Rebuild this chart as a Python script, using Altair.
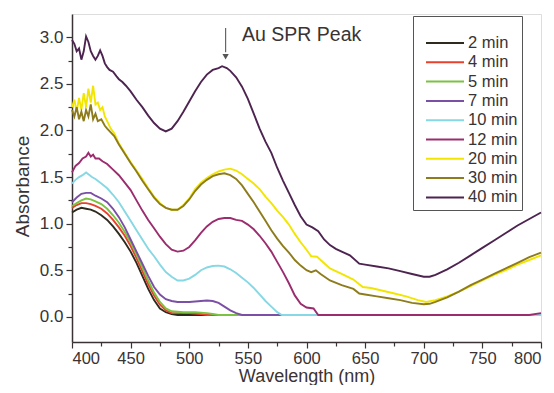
import altair as alt
import pandas as pd

series_names = ["2 min", "4 min", "5 min", "7 min", "10 min", "12 min", "20 min", "30 min", "40 min"]
series_colors = ["#2e2a1e", "#e8412c", "#7cc242", "#7b4fa6", "#86d8e4", "#9b2c6e", "#f2e600", "#8e7c1c", "#4d2350"]

wl_2 = [400, 404, 408, 412, 416, 420, 425, 430, 435, 440, 445, 450, 455, 460, 465, 470, 475, 480, 485, 490, 600, 700, 800]
ab_2 = [1.12, 1.15, 1.17, 1.16, 1.15, 1.13, 1.09, 1.04, 0.97, 0.89, 0.80, 0.70, 0.58, 0.44, 0.30, 0.18, 0.09, 0.05, 0.03, 0.02, 0.02, 0.02, 0.02]

wl_4 = [400, 404, 408, 412, 416, 420, 425, 430, 435, 440, 445, 450, 455, 460, 465, 470, 475, 480, 485, 500, 510, 515, 600, 700, 800]
ab_4 = [1.17, 1.20, 1.22, 1.22, 1.21, 1.19, 1.16, 1.11, 1.04, 0.96, 0.87, 0.76, 0.63, 0.49, 0.35, 0.23, 0.13, 0.07, 0.04, 0.04, 0.03, 0.02, 0.02, 0.02, 0.02]

wl_5 = [400, 404, 408, 412, 416, 420, 425, 430, 435, 440, 445, 450, 455, 460, 465, 470, 475, 480, 485, 495, 505, 515, 520, 525, 600, 700, 800]
ab_5 = [1.19, 1.22, 1.25, 1.27, 1.26, 1.24, 1.21, 1.16, 1.09, 1.01, 0.91, 0.80, 0.67, 0.53, 0.39, 0.26, 0.16, 0.09, 0.06, 0.05, 0.05, 0.04, 0.03, 0.02, 0.02, 0.02, 0.02]

wl_7 = [400, 404, 408, 412, 416, 420, 425, 430, 435, 440, 445, 450, 455, 460, 465, 470, 475, 480, 485, 490, 500, 510, 515, 520, 525, 530, 535, 540, 545, 600, 700, 800]
ab_7 = [1.23, 1.28, 1.32, 1.33, 1.33, 1.30, 1.27, 1.23, 1.16, 1.07, 0.96, 0.83, 0.70, 0.57, 0.44, 0.32, 0.24, 0.19, 0.17, 0.16, 0.16, 0.17, 0.175, 0.17, 0.15, 0.11, 0.07, 0.04, 0.02, 0.02, 0.02, 0.02]

wl_10 = [400, 403, 406, 409, 412, 414, 417, 420, 425, 430, 435, 440, 445, 450, 455, 460, 465, 470, 475, 480, 485, 490, 495, 500, 505, 510, 515, 520, 525, 530, 535, 540, 545, 550, 555, 560, 565, 570, 575, 579, 650, 800]
ab_10 = [1.43, 1.47, 1.50, 1.52, 1.55, 1.53, 1.50, 1.48, 1.43, 1.38, 1.31, 1.23, 1.13, 1.03, 0.93, 0.83, 0.73, 0.65, 0.56, 0.48, 0.43, 0.39, 0.39, 0.41, 0.45, 0.50, 0.53, 0.545, 0.55, 0.54, 0.51, 0.47, 0.42, 0.37, 0.31, 0.24, 0.17, 0.11, 0.05, 0.02, 0.02, 0.02]

wl_12 = [400, 403, 406, 409, 412, 414, 416, 418, 420, 423, 426, 430, 435, 440, 445, 450, 455, 460, 465, 470, 475, 480, 485, 490, 495, 500, 505, 510, 515, 520, 525, 530, 535, 540, 545, 550, 555, 560, 565, 570, 575, 580, 585, 590, 595, 600, 606, 610, 700, 790, 800]
ab_12 = [1.55, 1.62, 1.65, 1.70, 1.72, 1.76, 1.72, 1.74, 1.70, 1.70, 1.67, 1.64, 1.58, 1.52, 1.44, 1.36, 1.25, 1.14, 1.04, 0.95, 0.86, 0.78, 0.72, 0.70, 0.71, 0.75, 0.82, 0.90, 0.97, 1.02, 1.05, 1.06, 1.06, 1.04, 1.03, 0.99, 0.94, 0.87, 0.79, 0.70, 0.59, 0.48, 0.36, 0.23, 0.14, 0.10, 0.09, 0.02, 0.02, 0.02, 0.04]

wl_20 = [400, 402, 404, 406, 408, 410, 412, 414, 416, 418, 420, 422, 424, 426, 428, 430, 433, 436, 440, 445, 450, 455, 460, 465, 470, 475, 480, 485, 490, 495, 500, 505, 510, 515, 520, 525, 530, 535, 540, 545, 550, 555, 560, 565, 570, 575, 580, 585, 590, 595, 600, 604, 609, 613, 620, 630, 640, 645, 648, 655, 665, 675, 685, 695, 702, 710, 720, 730, 740, 750, 760, 770, 780, 790, 800]
ab_20 = [2.25, 2.33, 2.20, 2.35, 2.22, 2.40, 2.25, 2.45, 2.30, 2.48, 2.28, 2.30, 2.22, 2.25, 2.15, 2.10, 2.02, 1.97, 1.86, 1.76, 1.66, 1.57, 1.48, 1.38, 1.29, 1.22, 1.17, 1.15, 1.15, 1.20, 1.27, 1.37, 1.44, 1.49, 1.53, 1.56, 1.58, 1.59, 1.57, 1.53, 1.48, 1.43, 1.37, 1.29, 1.22, 1.14, 1.07, 0.99, 0.89, 0.80, 0.72, 0.65, 0.645, 0.60, 0.52, 0.46, 0.40, 0.35, 0.32, 0.31, 0.28, 0.25, 0.22, 0.18, 0.16, 0.18, 0.22, 0.27, 0.33, 0.39, 0.45, 0.50, 0.56, 0.61, 0.66]

wl_30 = [400, 402, 404, 406, 408, 410, 412, 414, 416, 418, 420, 422, 425, 428, 430, 433, 436, 440, 445, 450, 455, 460, 465, 470, 475, 480, 485, 490, 495, 500, 505, 510, 515, 520, 525, 530, 535, 540, 545, 550, 555, 560, 565, 570, 575, 580, 585, 590, 595, 600, 604, 608, 612, 620, 630, 640, 645, 650, 660, 670, 680, 690, 700, 705, 710, 720, 730, 740, 750, 760, 770, 780, 790, 800]
ab_30 = [2.22, 2.15, 2.25, 2.12, 2.20, 2.10, 2.22, 2.15, 2.28, 2.12, 2.18, 2.10, 2.12, 2.05, 2.02, 1.98, 1.94, 1.85, 1.75, 1.65, 1.56, 1.46, 1.37, 1.28, 1.21, 1.17, 1.15, 1.15, 1.19, 1.26, 1.35, 1.42, 1.47, 1.51, 1.53, 1.54, 1.52, 1.48, 1.41, 1.32, 1.23, 1.13, 1.03, 0.93, 0.84, 0.76, 0.69, 0.61, 0.55, 0.50, 0.48, 0.50, 0.46, 0.39, 0.34, 0.30, 0.25, 0.24, 0.22, 0.20, 0.18, 0.15, 0.135, 0.14, 0.16, 0.21, 0.27, 0.34, 0.40, 0.46, 0.52, 0.58, 0.64, 0.69]

wl_40 = [400, 402, 404, 406, 408, 410, 412, 414, 416, 418, 420, 422, 424, 426, 428, 430, 432, 435, 438, 440, 443, 446, 450, 455, 460, 465, 470, 475, 480, 485, 490, 495, 500, 505, 510, 515, 520, 525, 528, 532, 535, 540, 545, 550, 555, 560, 565, 570, 575, 580, 585, 590, 595, 600, 605, 610, 615, 620, 625, 630, 637, 645, 650, 660, 670, 680, 690, 700, 705, 710, 720, 730, 740, 750, 760, 770, 780, 790, 800]
ab_40 = [2.97, 2.93, 2.85, 2.88, 2.76, 2.85, 3.01, 2.95, 2.85, 2.80, 2.76, 2.80, 2.86, 2.80, 2.72, 2.68, 2.65, 2.63, 2.58, 2.55, 2.52, 2.48, 2.42, 2.33, 2.25, 2.16, 2.08, 2.02, 1.99, 2.02, 2.10, 2.20, 2.31, 2.42, 2.52, 2.60, 2.65, 2.67, 2.69, 2.67, 2.64, 2.57, 2.47, 2.34, 2.18, 2.02, 1.88, 1.76, 1.60, 1.46, 1.33, 1.20, 1.08, 0.99, 0.96, 0.92, 0.83, 0.77, 0.73, 0.70, 0.66, 0.57, 0.56, 0.54, 0.52, 0.49, 0.46, 0.43, 0.43, 0.45, 0.51, 0.58, 0.66, 0.74, 0.82, 0.90, 0.98, 1.05, 1.12]

all_wl = [wl_2, wl_4, wl_5, wl_7, wl_10, wl_12, wl_20, wl_30, wl_40]
all_ab = [ab_2, ab_4, ab_5, ab_7, ab_10, ab_12, ab_20, ab_30, ab_40]

x_major = [400, 450, 500, 550, 600, 650, 700, 750, 800]
x_minor = [425, 475, 525, 575, 625, 675, 725, 775]
y_major = [0.0, 0.5, 1.0, 1.5, 2.0, 2.5, 3.0]
y_minor = [0.25, 0.75, 1.25, 1.75, 2.25, 2.75]

peak_label = "Au SPR Peak"
arrow_wl = 531
arrow_top, arrow_bottom, arrow_tip = 3.10, 2.84, 2.79
label_wl, label_ab = 545, 3.03

FONT = "Liberation Sans"
INK = "#3a3333"

xscale = alt.Scale(domain=[400, 800], nice=False, zero=False)
yscale = alt.Scale(domain=[-0.27, 3.25], nice=False, zero=False)
cscale = alt.Scale(domain=series_names, range=series_colors)

x_axis = alt.Axis(values=x_major, format="d", title="Wavelength (nm)", grid=False,
                  tickSize=6, tickColor=INK, domainColor=INK, domainWidth=1.5, tickWidth=1.2,
                  labelFont=FONT, labelFontSize=16.5, labelColor=INK, labelPadding=2,
                  titleFont=FONT, titleFontSize=18, titleFontWeight="normal", titleColor=INK,
                  titleX=234.5, titleY=39, titleAlign="center", titleBaseline="alphabetic",
                  orient="bottom")
y_axis = alt.Axis(values=y_major, format=".1f", title="Absorbance", grid=False,
                  tickSize=6, tickColor=INK, domainColor=INK, domainWidth=1.5, tickWidth=1.2,
                  labelFont=FONT, labelFontSize=17, labelColor=INK, labelPadding=3,
                  titleFont=FONT, titleFontSize=19, titleFontWeight="normal", titleColor=INK,
                  titleAngle=270, titleX=-50, titleY=172, titleAlign="center", titleBaseline="middle",
                  orient="left")
x_axis_minor = alt.Axis(values=x_minor, labels=False, title=None, grid=False, domain=False,
                        tickSize=4, tickColor=INK, tickWidth=1.2, orient="bottom")
y_axis_minor = alt.Axis(values=y_minor, labels=False, title=None, grid=False, domain=False,
                        tickSize=4, tickColor=INK, tickWidth=1.2, orient="left")

legend = alt.Legend(title=" ", titleFontSize=10, titlePadding=4, orient="none", legendX=341, legendY=2,
                    strokeColor="#555", padding=4, symbolOffset=19, symbolType="M-2.375,0H2.375",
                    symbolSize=256, symbolStrokeWidth=2, labelFont=FONT, labelFontSize=16.5,
                    labelColor=INK, labelOffset=14, rowPadding=1.3, fillColor="white")

layers = []
for i, (name, wl, ab) in enumerate(zip(series_names, all_wl, all_ab)):
    df = pd.DataFrame({"wl": wl, "A": ab, "series": name})
    enc = dict(
        x=alt.X("wl:Q", scale=xscale, axis=x_axis),
        y=alt.Y("A:Q", scale=yscale, axis=y_axis),
        color=alt.Color("series:N", scale=cscale, legend=legend),
    )
    layers.append(alt.Chart(df).mark_line(strokeWidth=1.9).encode(**enc))

main = alt.layer(*layers)

minor_df = pd.DataFrame({"wl": [400, 800], "A": [0.0, 0.0]})
minor = alt.Chart(minor_df).mark_line(opacity=0).encode(
    x=alt.X("wl:Q", scale=xscale, axis=x_axis_minor),
    y=alt.Y("A:Q", scale=yscale, axis=y_axis_minor),
)

arrow_df = pd.DataFrame({"wl": [arrow_wl], "top": [arrow_top], "bot": [arrow_bottom], "tip": [arrow_tip]})
arrow_line = alt.Chart(arrow_df).mark_rule(color="#666", strokeWidth=1.2).encode(
    x=alt.X("wl:Q", scale=xscale), y=alt.Y("top:Q", scale=yscale), y2="bot:Q")
arrow_head = alt.Chart(arrow_df).mark_point(shape="triangle-down", filled=True, color="#555", size=40, opacity=1).encode(
    x=alt.X("wl:Q", scale=xscale), y=alt.Y("tip:Q", scale=yscale))

text_df = pd.DataFrame({"wl": [label_wl], "A": [label_ab], "t": [peak_label]})
peak_text = alt.Chart(text_df).mark_text(align="left", baseline="middle", font=FONT, fontSize=19.5, color=INK).encode(
    x=alt.X("wl:Q", scale=xscale), y=alt.Y("A:Q", scale=yscale), text="t:N")

deco = alt.layer(main, arrow_line, arrow_head, peak_text)

chart = alt.layer(deco, minor).resolve_axis(
    x="independent", y="independent"
).properties(
    width=469, height=328, autosize=alt.AutoSizeParams(type="none"),
    padding={"left": 64, "top": 6, "right": 5, "bottom": 43},
).configure_view(stroke=INK, strokeWidth=1.5).configure(background="white")

chart.save("out.html", embed_options={"renderer": "svg", "actions": False})
